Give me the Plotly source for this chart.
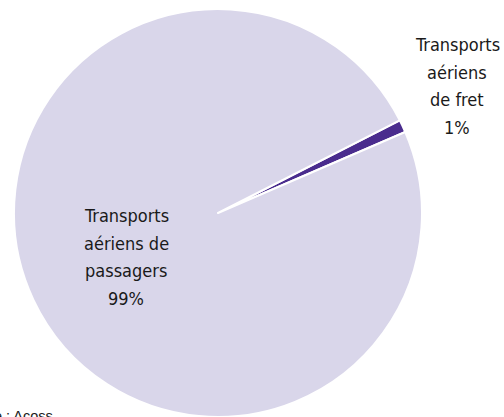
import plotly.graph_objects as go

# Share of air transport activity
categories = ["Transports aériens de fret", "Transports aériens de passagers"]
shares = [1, 99]
label_lines = [
    ["Transports", "aériens", "de fret", "1%"],
    ["Transports", "aériens de", "passagers", "99%"],
]
source_text = "Source : Acoss"

colors = ["#4a2c8e", "#d9d6ea"]
label_font = dict(family="DejaVu Sans Condensed, Liberation Sans Narrow, sans-serif",
                  size=18, color="#1a1a1a")

W, H = 504, 417
LINE_GAP = 27.5  # px between label baselines

fig = go.Figure(
    go.Pie(
        labels=categories,
        values=shares,
        sort=False,
        direction="counterclockwise",
        rotation=63,
        marker=dict(colors=colors, line=dict(color="white", width=2)),
        textinfo="none",
        hoverinfo="label+percent",
        showlegend=False,
        domain=dict(x=[13 / W, 423 / W], y=[0, 408 / H]),
    )
)


def add_label(lines, x_px, first_baseline_px):
    """Stack the lines of a slice label, centred on x_px."""
    for i, line in enumerate(lines):
        baseline = first_baseline_px + i * LINE_GAP
        fig.add_annotation(
            text=line,
            x=x_px / W, y=1 - (baseline - 5.5) / H,
            xref="paper", yref="paper",
            xanchor="center", yanchor="middle",
            showarrow=False, align="center",
            font=label_font,
        )


# Freight label sits outside on the right, passengers label inside the big slice
add_label(label_lines[0], 457, 50)
add_label(label_lines[1], 126, 221)

fig.add_annotation(
    text=source_text,
    x=55 / W, y=11 / H, xref="paper", yref="paper",
    xanchor="right", yanchor="top", showarrow=False,
    font=dict(family="Liberation Sans, Arial, sans-serif", size=14.5, color="#1a1a1a"),
)

fig.update_layout(
    width=W, height=H,
    margin=dict(l=0, r=0, t=0, b=0),
    paper_bgcolor="white",
    plot_bgcolor="white",
)

fig.write_html("out.html")
